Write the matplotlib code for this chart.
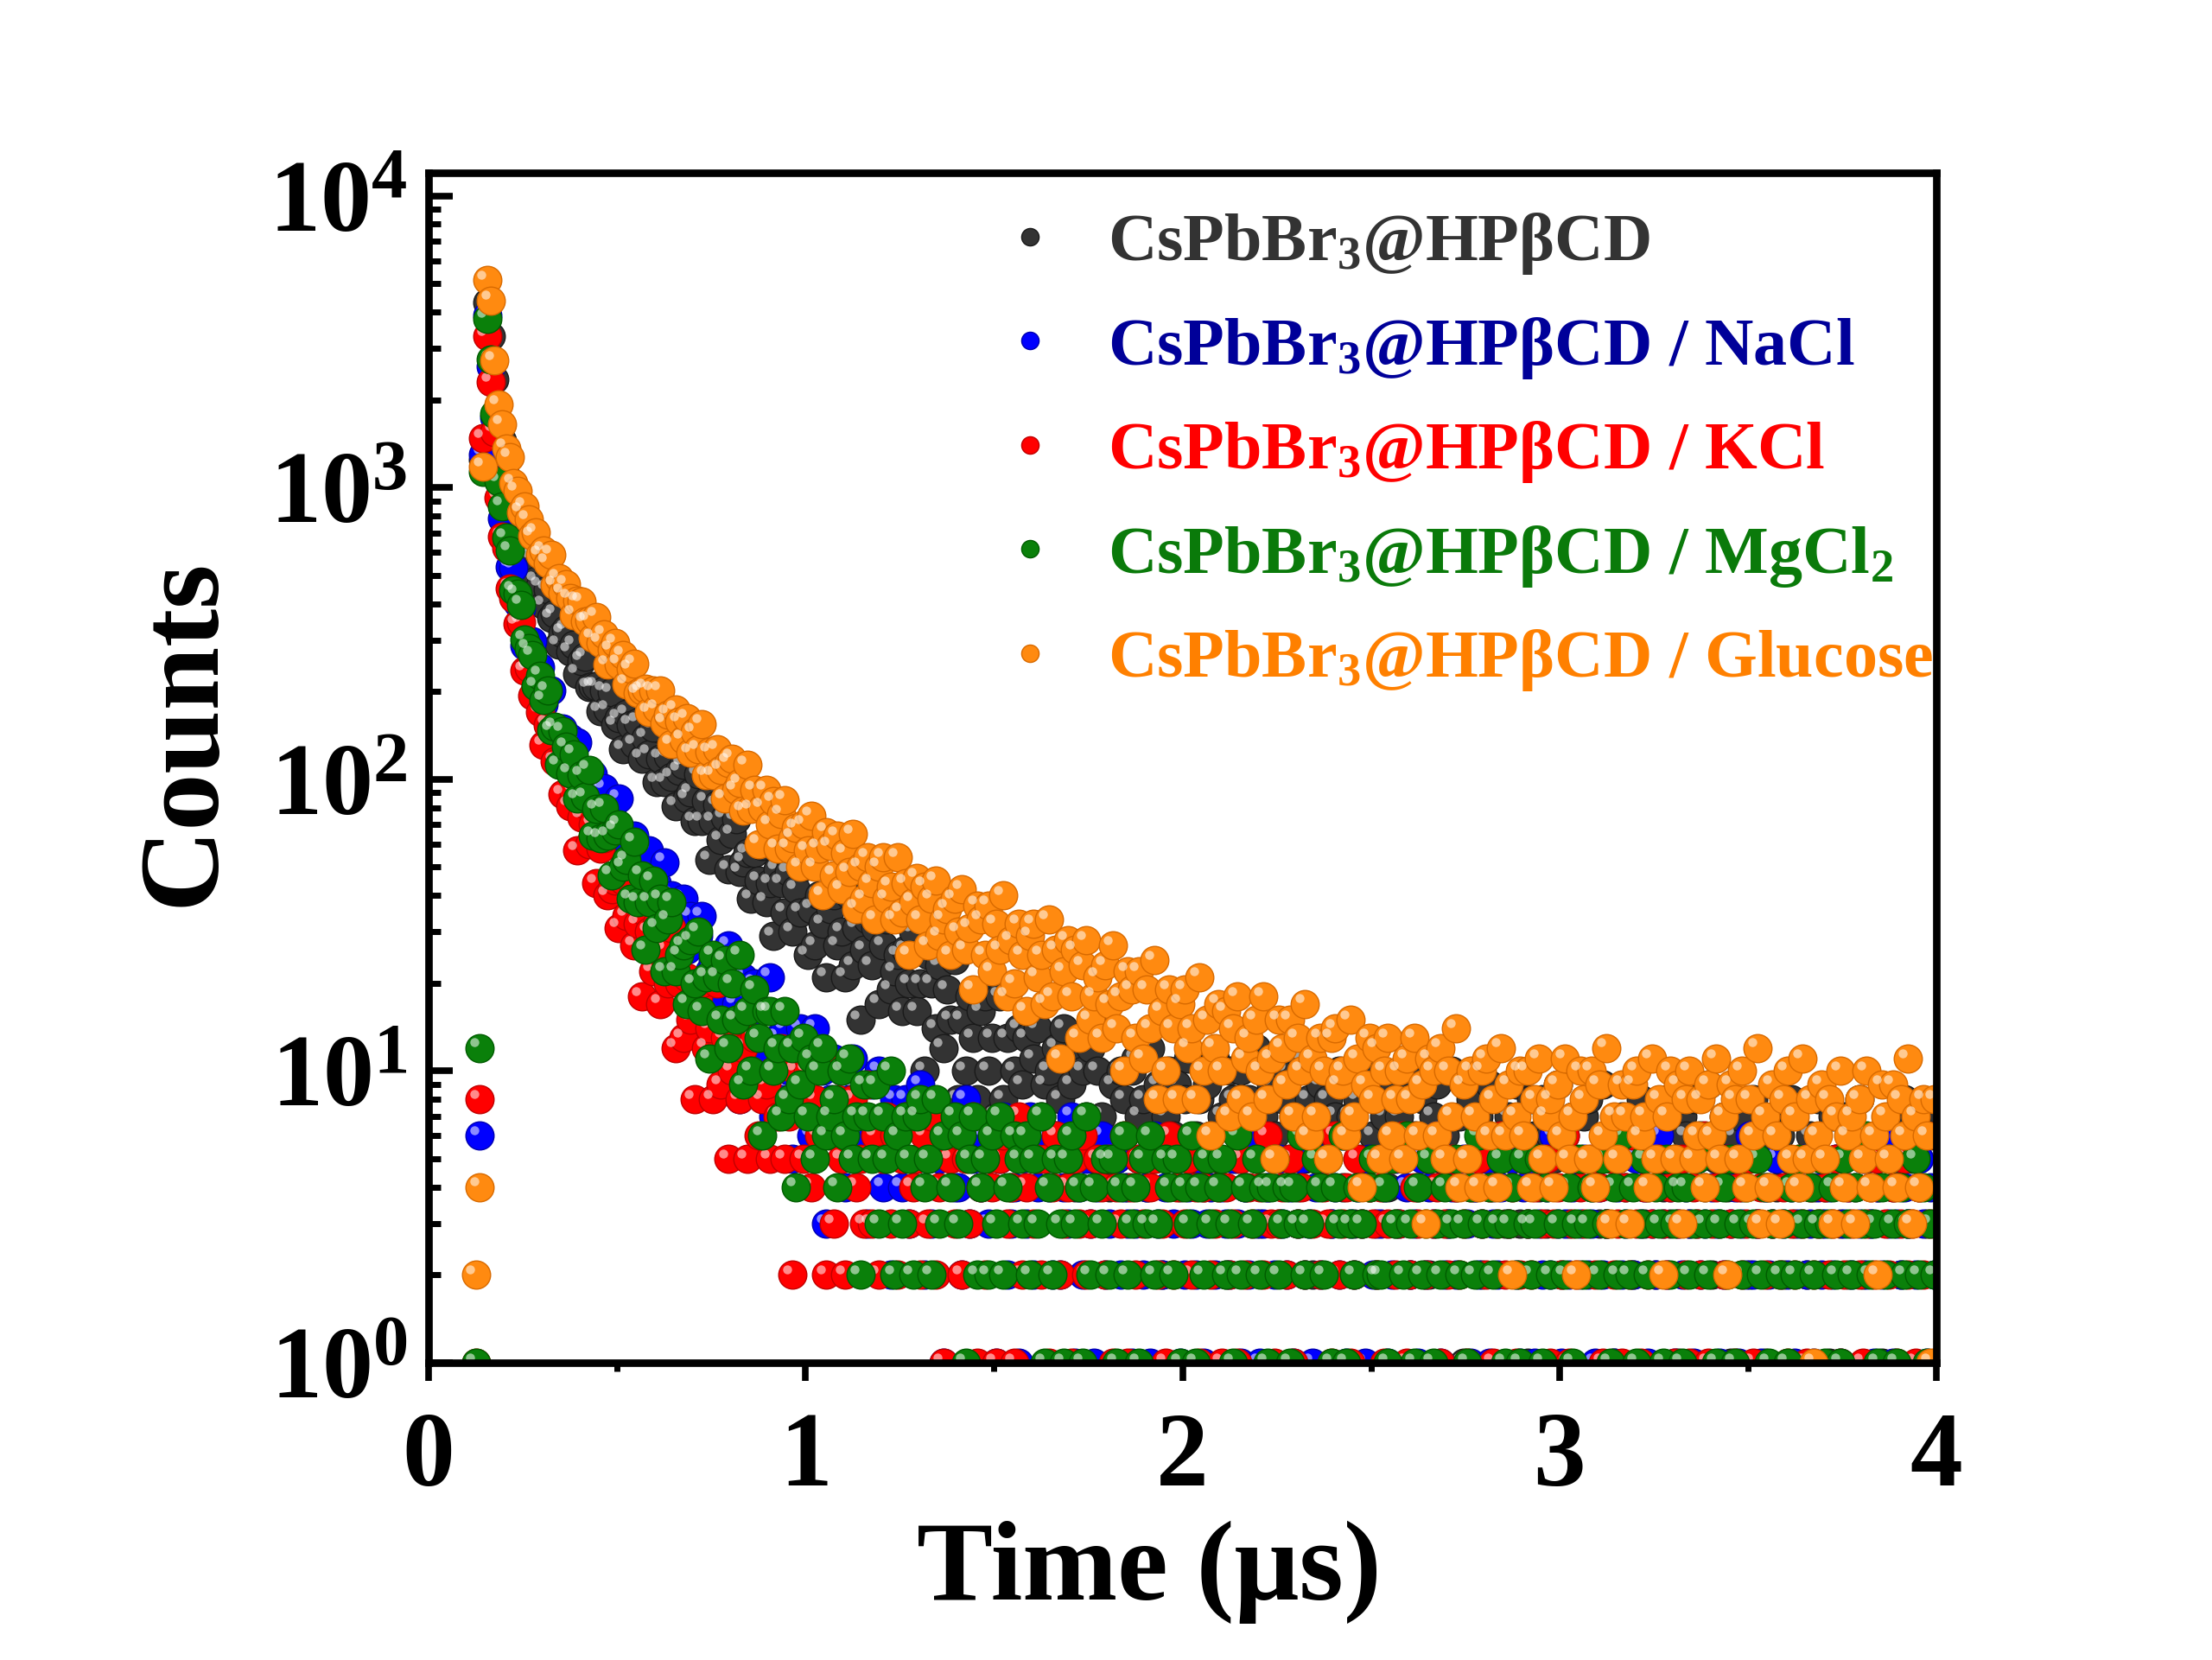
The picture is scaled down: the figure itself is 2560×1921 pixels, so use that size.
import numpy as np
import matplotlib.pyplot as plt
from matplotlib.lines import Line2D
from matplotlib.ticker import MultipleLocator, FixedLocator, FixedFormatter, LogLocator, NullFormatter
from matplotlib.transforms import offset_copy

plt.rcParams['font.family'] = ['Liberation Serif', 'DejaVu Serif']
plt.rcParams['font.weight'] = 'bold'
plt.rcParams['mathtext.fontset'] = 'custom'
plt.rcParams['mathtext.rm'] = 'Liberation Serif:bold'
plt.rcParams['mathtext.bf'] = 'Liberation Serif:bold'
plt.rcParams['mathtext.it'] = 'Liberation Serif:bold:italic'

# TCSPC channels: first channel time and channel width (us)
t_start = 0.125
t_step = 0.01

# photon counts per channel
pristine = [0,0,1250,4300,3300,2343,1689,1446,1088,1012,845,827,706,590,605,572,478,461,395,447,
    357,370,289,317,327,274,289,230,255,263,207,208,209,171,201,173,199,153,162,127,
    168,154,132,157,118,139,122,150,98,118,98,120,102,81,107,112,86,90,72,104,
    72,84,53,72,82,62,74,49,65,73,48,52,56,39,56,45,59,38,44,29,
    49,44,35,48,30,42,35,50,25,36,27,40,32,21,36,40,27,30,21,40,
    23,31,15,26,33,23,31,17,27,33,19,22,25,16,26,20,30,16,20,10,
    25,20,14,23,12,19,15,24,8,15,10,18,13,8,16,18,10,13,7,18,
    8,13,4,10,14,9,13,6,11,14,7,9,10,6,12,8,14,6,9,4,
    12,10,7,12,5,10,7,14,4,9,5,10,8,4,10,11,7,8,4,12,
    5,9,2,7,10,6,9,4,8,11,5,6,8,4,9,6,11,5,7,2,
    10,8,5,10,4,8,6,12,3,7,4,9,6,3,8,10,5,7,4,11,
    5,8,2,6,9,5,8,3,7,10,4,6,7,3,8,5,10,4,6,2,
    8,7,4,9,3,7,5,10,2,6,4,8,5,2,7,9,5,6,3,10,
    4,7,1,5,8,4,7,2,6,9,4,5,6,3,7,5,9,3,5,1,
    8,6,4,8,3,6,5,9,2,6,3,7,5,2,7,8,4,5,3,9,
    3,6,1,5,7,4,7,2,6,8,3,4,6,2,7,4,8,3,5,1,
    7,6,3,8,3,6,4,9,2,5,3,7,4,1,6,7,4,5,2,8,
    3,6,1,4,7,4,6,2,5,8,3,4,5,2,6,4,8,3,4,1,
    7,5,3,7,2,6,4,8,2,5,3,6,4,1,6,7,4,5,2,8,
    3,5,0,4,7,3,6,2]

nacl = [0,6,1300,3900,2600,1743,1057,785,677,536,530,401,385,287,300,297,235,242,181,199,
    201,150,149,149,116,139,114,134,95,101,73,104,92,75,93,63,79,66,86,48,
    62,48,64,51,37,55,57,41,44,32,52,32,40,21,33,39,26,34,19,29,
    34,19,22,24,15,25,18,27,14,17,8,21,18,12,20,10,16,12,21,7,
    13,8,14,10,5,12,14,8,10,6,14,6,10,3,8,11,6,10,4,8,
    11,5,6,7,3,9,6,10,4,6,2,8,7,4,8,3,7,5,9,2,
    5,3,7,5,1,6,7,4,4,2,8,3,5,0,4,6,3,6,1,5,
    7,2,3,4,1,5,3,7,2,4,0,6,4,2,6,2,4,3,7,1,
    4,2,5,3,1,4,6,2,3,0,5,2,4,3,1,3,5,2,4,1,
    6,3,2,4,0,3,5,1,2,4,3,2,5,1,3,4,2,0,4,3,
    2,5,3,1,4,2,6,3,1,3,4,0,2,5,3,2,4,1,3,5,
    2,3,1,4,2,5,0,3,4,2,6,1,3,2,4,3,1,5,2,3,
    3,4,1,2,5,3,0,4,2,3,1,5,2,4,3,6,1,2,3,4,
    2,0,5,3,1,4,2,3,5,1,3,2,4,0,3,5,2,1,4,3,
    5,1,3,2,4,2,6,3,1,3,2,4,0,3,5,2,3,1,4,2,
    3,5,1,4,2,3,0,2,5,3,4,1,3,2,6,3,2,4,1,3,
    2,4,3,1,5,2,3,0,4,3,1,2,5,3,4,1,3,2,6,2,
    3,1,4,2,3,5,0,3,2,4,1,3,5,2,3,1,4,2,3,4,
    2,5,1,3,4,2,0,3,5,2,3,1,4,2,6,3,1,3,2,4,
    3,0,2,5,3,1,4,2]

kcl = [1,8,1480,3300,2300,1555,920,680,620,452,418,340,345,236,241,194,208,170,131,154,
    151,115,115,89,120,81,91,57,74,82,60,70,44,58,63,40,42,45,31,45,
    34,45,27,32,18,35,30,22,32,17,26,20,31,12,20,13,21,15,8,18,
    20,12,14,8,20,9,13,5,10,14,8,12,5,10,13,6,8,9,5,10,
    7,12,5,7,2,10,8,5,10,4,8,6,11,2,6,3,8,5,2,7,
    8,4,5,3,9,3,6,2,5,7,3,6,2,5,7,3,4,5,2,6,
    3,7,2,4,1,6,5,3,6,2,5,3,7,1,4,2,5,4,1,5,
    6,3,4,1,7,2,4,0,3,5,2,5,1,4,6,2,3,4,1,5,
    3,6,2,3,0,5,4,2,5,1,4,3,6,1,4,2,5,3,0,4,
    5,2,3,1,6,2,4,0,3,5,2,4,1,4,5,2,3,4,1,4,
    2,3,1,5,2,4,3,0,4,2,6,3,1,3,4,2,5,1,3,4,
    2,0,3,5,2,4,3,1,6,2,3,4,1,2,5,3,0,4,3,2,
    4,1,3,5,2,3,6,1,2,4,3,0,2,5,3,4,1,3,2,5,
    4,2,3,1,4,0,5,3,2,4,1,3,6,2,3,4,1,2,5,3,
    2,4,0,3,5,1,3,4,2,6,1,3,2,4,3,0,5,2,4,1,
    3,5,2,3,1,4,2,6,3,1,4,2,3,0,5,3,2,4,1,3,
    5,2,1,4,3,2,6,1,3,4,0,2,5,3,1,4,2,3,5,1,
    3,4,2,0,3,6,2,4,1,3,2,5,3,1,4,2,3,0,4,2,
    3,5,1,2,4,3,6,2,1,3,4,2,5,0,3,2,4,1,3,5,
    2,3,1,4,2,6,3,1]

mgcl2 = [1,12,1130,3800,2750,1792,1050,864,673,608,444,433,397,301,281,266,208,227,187,202,
    147,151,112,146,129,105,122,86,103,87,108,64,79,63,80,64,47,67,70,50,
    53,39,61,38,47,26,38,45,31,39,22,33,38,22,25,27,17,28,20,30,
    16,21,11,25,21,15,24,12,20,15,25,9,16,10,19,13,6,16,16,10,
    12,7,16,8,12,4,9,13,7,11,5,10,12,6,7,8,4,10,6,11,
    5,7,2,9,7,5,9,3,7,5,10,2,6,3,7,5,2,7,8,4,
    5,2,8,3,6,0,4,7,3,6,1,5,7,2,4,5,2,6,3,7,
    2,4,0,6,5,3,6,2,5,3,7,1,4,2,5,3,1,5,6,3,
    4,1,7,2,4,0,3,5,2,5,1,4,6,2,3,4,1,5,3,6,
    2,3,0,5,4,2,5,1,4,3,6,1,4,2,5,3,0,4,5,2,
    3,1,6,2,4,0,3,5,2,4,1,4,5,2,3,4,1,4,3,6,
    2,3,0,5,4,2,5,1,4,3,6,1,3,2,4,3,0,4,5,2,
    2,4,1,5,3,0,2,6,3,1,4,2,3,5,1,3,2,4,0,3,
    5,2,3,1,4,2,6,3,0,4,2,3,5,1,3,4,2,1,5,3,
    2,3,5,1,4,2,0,3,6,2,4,1,3,5,2,3,4,0,2,5,
    3,1,4,2,6,3,2,4,1,3,5,2,0,4,3,1,5,2,3,4,
    1,4,2,3,5,0,3,2,6,1,3,4,2,5,1,3,2,4,0,3,
    5,2,4,1,3,6,2,3,1,4,2,5,3,0,4,2,3,5,1,3,
    4,2,1,5,3,2,4,0,3,6,2,3,1,4,2,5,3,1,4,2,
    3,0,5,2,4,1,3,2]

glucose = [2,4,1180,5150,4380,2727,1930,1647,1366,1272,1036,974,824,861,778,684,703,588,607,551,
    590,464,488,435,467,419,366,409,407,348,350,306,361,294,314,247,278,293,248,266,
    212,239,249,197,201,205,170,202,175,202,156,167,132,173,158,137,162,123,145,127,
    155,103,124,103,127,108,86,114,118,92,97,78,112,79,92,60,80,92,70,84,
    58,76,85,58,63,68,50,70,57,75,50,58,40,66,59,47,64,42,56,48,
    65,36,50,39,54,44,33,50,54,39,43,33,54,35,44,25,38,46,33,43,
    27,39,45,29,33,36,25,39,30,42,26,31,19,37,33,25,37,22,32,26,
    40,18,28,20,32,25,16,29,32,21,25,17,33,18,26,11,22,28,18,26,
    13,23,28,15,18,21,13,23,17,27,14,18,10,22,19,13,22,11,19,14,
    24,8,16,10,19,14,8,17,19,12,14,8,21,10,15,6,12,17,10,16,
    7,14,18,8,11,13,7,15,10,18,8,11,5,15,12,9,15,7,13,10,
    17,6,11,7,13,10,5,13,14,9,10,6,15,7,11,4,9,13,8,12,
    5,10,13,6,8,10,5,11,8,13,6,9,3,11,10,6,12,5,10,7,
    14,4,9,5,10,7,4,10,11,6,8,4,12,6,9,2,7,10,6,10,
    4,8,11,5,7,8,4,9,6,11,5,7,2,10,8,5,10,4,9,6,
    12,3,7,5,9,7,3,9,10,6,7,4,11,5,8,2,7,10,5,9,
    3,8,10,5,6,8,4,9,6,11,5,7,2,9,8,5,10,4,8,6,
    12,3,7,4,9,6,3,8,10,5,7,4,11,5,8,1,6,9,5,8,
    3,7,10,4,6,7,3,8,5,10,4,6,2,9,7,5,9,4,8,6,
    11,3,7,4,8,6,1,8]

series = [pristine, nacl, kcl, mgcl2, glucose]
labels = [r'CsPbBr$_3$@HPβCD',
          r'CsPbBr$_3$@HPβCD / NaCl',
          r'CsPbBr$_3$@HPβCD / KCl',
          r'CsPbBr$_3$@HPβCD / MgCl$_2$',
          r'CsPbBr$_3$@HPβCD / Glucose']
dot_colors = ['#333333', '#0000FF', '#FF0000', '#0A800A', '#FF8A10']
rim_colors = ['#1a1a1a', '#0000B0', '#C00000', '#005C00', '#D86A00']
text_colors = ['#333333', '#000099', '#FF0000', '#0A7A0A', '#FF8000']

fig = plt.figure(figsize=(10.24, 7.684), dpi=250)
ax = fig.add_axes([0.1938, 0.1791, 0.6816, 0.7168])

# small offset copy of the data transform for the sphere highlight
shine = offset_copy(ax.transData, fig=fig, x=-1.8, y=1.8, units='points')

for counts, col, rim in zip(series, dot_colors, rim_colors):
    c = np.array(counts, dtype=float)
    t = t_start + t_step * np.arange(len(c))
    keep = c > 0
    ax.scatter(t[keep], c[keep], s=88, c=col, edgecolors=rim, linewidths=0.4, zorder=2)
    ax.scatter(t[keep], c[keep], s=9, c='white', alpha=0.55, linewidths=0,
               transform=shine, zorder=2)

ax.set_yscale('log')
ax.set_xlim(0, 4)
ax.set_ylim(1, 1.2e4)

ax.xaxis.set_major_locator(MultipleLocator(1))
ax.xaxis.set_minor_locator(MultipleLocator(0.5))
ax.yaxis.set_major_locator(FixedLocator([1, 10, 100, 1000, 10000]))
ax.yaxis.set_major_formatter(FixedFormatter([r'$\mathbf{10^{0}}$', r'$\mathbf{10^{1}}$',
                                             r'$\mathbf{10^{2}}$', r'$\mathbf{10^{3}}$',
                                             r'$\mathbf{10^{4}}$']))
ax.yaxis.set_minor_locator(LogLocator(base=10, subs=range(2, 10), numticks=20))
ax.yaxis.set_minor_formatter(NullFormatter())

ax.tick_params(axis='y', which='major', direction='in', length=8, width=2.2,
               labelsize=34, pad=7, right=False)
ax.tick_params(axis='y', which='minor', direction='in', length=4, width=2, right=False)
ax.tick_params(axis='x', which='major', direction='out', length=6, width=2.2,
               labelsize=35, pad=10.5, top=False)
ax.tick_params(axis='x', which='minor', direction='out', length=3, width=2, top=False)

for sp in ax.spines.values():
    sp.set_linewidth(2.5)

ax.set_xlabel('Time (μs)', fontsize=38, fontweight='bold')
ax.set_ylabel('Counts', fontsize=38, fontweight='bold')
ax.xaxis.set_label_coords(0.478, -0.133)
ax.yaxis.set_label_coords(-0.127, 0.53)

handles = [Line2D([], [], ls='none', marker='o', ms=5.8, mfc=col, mec=rim, mew=0.4)
           for col, rim in zip(dot_colors, rim_colors)]
ax.legend(handles, labels, loc='upper left', bbox_to_anchor=(0.381, 0.968),
          frameon=False, fontsize=22.5, handlelength=0.8, handletextpad=0.75,
          labelspacing=0.57, borderpad=0, borderaxespad=0, labelcolor=text_colors)

fig.savefig('out.png', dpi=250)
